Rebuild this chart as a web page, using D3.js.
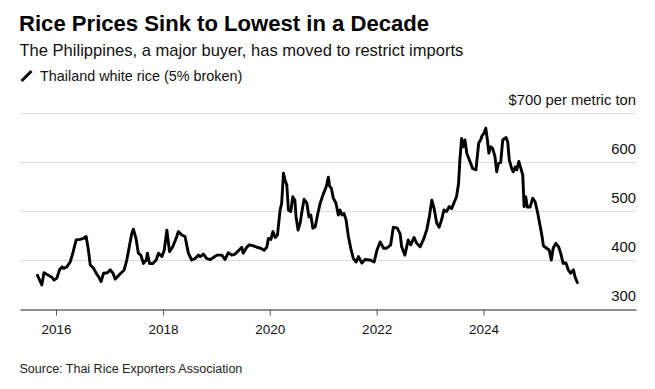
<!DOCTYPE html>
<html><head><meta charset="utf-8">
<script src="https://cdn.jsdelivr.net/npm/d3@7"></script>
<style>
body{margin:0;background:#fff}
svg{display:block}
text{font-family:"Liberation Sans",Arial,sans-serif}
</style>
</head><body>
<svg id="chart" width="655" height="389"></svg>
<script>
const title = "Rice Prices Sink to Lowest in a Decade";
const subtitle = "The Philippines, a major buyer, has moved to restrict imports";
const legendLabel = "Thailand white rice (5% broken)";
const sourceText = "Source: Thai Rice Exporters Association";
const unitLabel = "$700 per metric ton";

const dates = [
"2015-08-27","2015-09-26","2015-10-11","2015-11-10","2015-12-03","2015-12-19",
"2016-01-07","2016-01-25","2016-02-11","2016-02-22","2016-03-15","2016-04-07","2016-04-25","2016-05-18","2016-06-14","2016-07-07","2016-07-25","2016-08-10","2016-08-22","2016-09-14","2016-10-02","2016-10-18","2016-11-04","2016-11-21","2016-12-18",
"2017-01-06","2017-01-25","2017-02-09","2017-02-24","2017-03-19","2017-04-10","2017-04-29","2017-05-16","2017-06-02","2017-06-13","2017-07-01","2017-07-17","2017-08-03","2017-08-21","2017-09-09","2017-09-17","2017-10-01","2017-10-24","2017-11-16","2017-12-02","2017-12-25",
"2018-01-10","2018-01-28","2018-02-15","2018-03-09","2018-04-01","2018-04-17","2018-05-10","2018-06-01","2018-06-24","2018-07-17","2018-08-09","2018-09-01","2018-09-13","2018-10-05","2018-10-28","2018-11-20","2018-12-12",
"2019-01-05","2019-02-08","2019-03-01","2019-03-24","2019-04-16","2019-05-09","2019-06-01","2019-06-24","2019-07-04","2019-07-28","2019-08-15","2019-09-12","2019-10-05","2019-11-01","2019-11-24","2019-12-12","2019-12-23",
"2020-01-09","2020-01-23","2020-02-08","2020-02-23","2020-03-12","2020-03-23","2020-04-04","2020-04-15","2020-04-27","2020-05-08","2020-05-24","2020-06-07","2020-06-21","2020-06-29","2020-07-13","2020-07-27","2020-08-10","2020-08-23","2020-09-11","2020-09-25","2020-10-08","2020-10-22","2020-11-07","2020-11-23","2020-12-11",
"2021-01-03","2021-01-22","2021-02-05","2021-02-13","2021-02-26","2021-03-11","2021-03-29","2021-04-14","2021-04-26","2021-05-09","2021-05-23","2021-06-06","2021-06-22","2021-07-08","2021-07-26","2021-08-14","2021-08-30","2021-09-22","2021-10-14","2021-11-06","2021-11-18","2021-12-15",
"2022-01-03","2022-01-25","2022-02-17","2022-03-10","2022-04-07","2022-04-25","2022-05-22","2022-06-10","2022-06-21","2022-07-13","2022-08-05","2022-08-22","2022-09-14","2022-10-02","2022-10-25","2022-11-16","2022-12-09","2022-12-27",
"2023-01-13","2023-01-29","2023-02-16","2023-03-04","2023-03-21","2023-04-06","2023-04-24","2023-05-12","2023-05-28","2023-06-13","2023-07-01","2023-07-15","2023-07-24","2023-08-05","2023-08-16","2023-08-28","2023-09-09","2023-09-27","2023-10-19","2023-11-11","2023-11-20","2023-11-30","2023-12-13","2023-12-22",
"2024-01-05","2024-01-17","2024-01-28","2024-02-07","2024-02-20","2024-03-04","2024-03-20","2024-04-01","2024-04-12","2024-04-28","2024-05-12","2024-06-04","2024-06-15","2024-06-26","2024-07-12","2024-07-23","2024-08-06","2024-08-16","2024-08-30","2024-09-13","2024-09-26","2024-10-05","2024-10-16","2024-10-27","2024-11-15","2024-12-03","2024-12-19",
"2025-01-04","2025-01-23","2025-02-03","2025-02-14","2025-03-08","2025-03-26","2025-04-09","2025-04-22","2025-05-10","2025-05-29","2025-06-12","2025-06-29","2025-07-18","2025-08-03","2025-08-19","2025-09-07","2025-09-18","2025-10-04"
];
const prices = [
370,350,375,370,366,360,
364,381,387,384,387,397,415,442,443,445,449,421,391,384,374,367,357,374,375,
381,374,362,367,374,380,401,428,455,464,445,415,411,394,401,415,394,394,401,415,408,
421,462,418,428,445,459,452,449,415,401,404,411,408,413,404,402,406,
411,411,402,416,411,413,420,427,415,427,432,430,427,425,421,427,445,
443,459,447,452,503,517,578,564,554,503,500,530,523,489,462,476,503,525,517,489,493,466,469,493,517,
537,551,570,552,547,527,517,493,503,493,496,483,449,425,404,397,408,395,402,401,401,397,
421,438,425,425,432,468,466,455,428,411,442,432,447,435,428,442,462,489,
523,506,476,468,483,503,500,510,506,517,530,557,605,649,632,646,619,605,588,585,612,640,646,654,
660,670,646,619,632,629,612,581,598,600,646,651,642,605,588,581,591,585,602,588,574,510,530,509,509,527,520,
500,470,452,430,425,421,401,425,435,428,415,394,395,381,374,381,367,355
];

const yTicks = [300, 400, 500, 600, 700];
const xTickYears = [2016, 2018, 2020, 2022, 2024];
const xDomain = ["2015-04-30", "2026-11-09"];
const yDomain = [300, 700];

const parse = d3.timeParse("%Y-%m-%d");
const data = dates.map((d, i) => ({date: parse(d), value: prices[i]}));

const svg = d3.select("#chart");
svg.append("rect").attr("width", 655).attr("height", 389).attr("fill", "#fff");

const left = 20, right = 636;
const x = d3.scaleTime().domain(xDomain.map(parse)).range([left, right]);
const y = d3.scaleLinear().domain(yDomain).range([309.5, 113.5]);

// header
svg.append("text").attr("x", 19).attr("y", 30.5)
  .attr("font-size", 22.1).attr("font-weight", "bold").attr("fill", "#000")
  .text(title);
svg.append("text").attr("x", 19.5).attr("y", 55.5)
  .attr("font-size", 16.55).attr("fill", "#111")
  .text(subtitle);
svg.append("line").attr("x1", 21.5).attr("y1", 81).attr("x2", 31.5).attr("y2", 71)
  .attr("stroke", "#000").attr("stroke-width", 3);
svg.append("text").attr("x", 40).attr("y", 81)
  .attr("font-size", 14.4).attr("fill", "#111")
  .text(legendLabel);

// gridlines
svg.append("g").selectAll("line")
  .data(yTicks.filter(v => v !== yDomain[0]))
  .join("line")
  .attr("x1", left).attr("x2", right)
  .attr("y1", d => y(d)).attr("y2", d => y(d))
  .attr("stroke", "#dcdcdc").attr("stroke-width", 1);

// right labels
svg.append("g").selectAll("text")
  .data(yTicks)
  .join("text")
  .attr("x", right).attr("y", d => y(d) - 8.3)
  .attr("text-anchor", "end")
  .attr("font-size", 14.8).attr("fill", "#111")
  .text(d => d === 700 ? unitLabel : d);

// x axis
const xAxis = d3.axisBottom(x)
  .tickValues(xTickYears.map(yr => new Date(yr, 0, 1)))
  .tickFormat(d3.timeFormat("%Y"))
  .tickSize(6).tickSizeOuter(0).tickPadding(9);
const gx = svg.append("g").attr("transform", `translate(0,${y(300)})`).call(xAxis);
gx.select(".domain").attr("stroke", "#222").attr("stroke-width", 1);
gx.selectAll(".tick line").attr("stroke", "#555");
gx.selectAll(".tick text").attr("font-size", 13.5).attr("fill", "#111")
  .attr("font-family", '"Liberation Sans",Arial,sans-serif');

// line
const line = d3.line().x(d => x(d.date)).y(d => y(d.value));
svg.append("path").datum(data)
  .attr("d", line)
  .attr("fill", "none").attr("stroke", "#000")
  .attr("stroke-width", 2.9).attr("stroke-linejoin", "round").attr("stroke-linecap", "round");

// source
svg.append("text").attr("x", 19.5).attr("y", 372.5)
  .attr("font-size", 12.5).attr("fill", "#222")
  .text(sourceText);
</script>
</body></html>
